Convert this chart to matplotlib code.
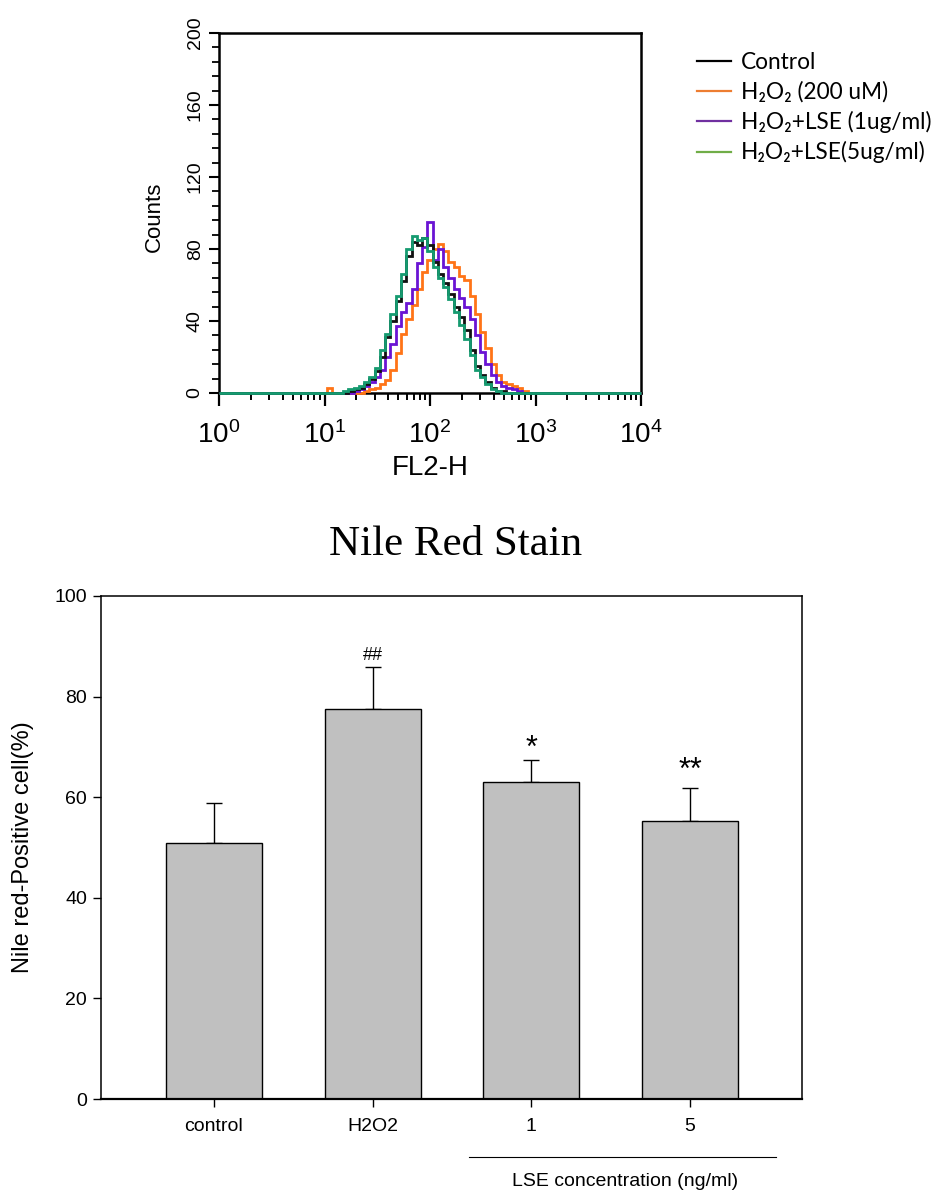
import matplotlib
matplotlib.use("Agg")
import numpy as np
import matplotlib.pyplot as plt
from matplotlib.ticker import MultipleLocator, LogLocator, NullFormatter, FixedLocator
from matplotlib.lines import Line2D

plt.rcParams['font.family'] = ['Liberation Sans', 'DejaVu Sans']
plt.rcParams['mathtext.fontset'] = 'custom'
plt.rcParams['mathtext.rm'] = 'Liberation Sans'
plt.rcParams['mathtext.it'] = 'Liberation Sans:italic'
plt.rcParams['mathtext.bf'] = 'Liberation Sans:bold'
plt.rcParams['mathtext.default'] = 'regular'

# ---------------- flow cytometry histogram data (log10 FL2-H channel centers) --------------
fl2_log10 = [1.00, 1.05, 1.10, 1.15, 1.20, 1.25, 1.30, 1.35, 1.40, 1.45,
             1.50, 1.55, 1.60, 1.65, 1.70, 1.75, 1.80, 1.85, 1.90, 1.95,
             2.00, 2.05, 2.10, 2.15, 2.20, 2.25, 2.30, 2.35, 2.40, 2.45,
             2.50, 2.55, 2.60, 2.65, 2.70, 2.75, 2.80, 2.85, 2.90, 2.95, 3.00]
counts_control = [0, 0, 0, 0, 0, 1, 2, 3, 5, 8,
                  12, 20, 31, 40, 51, 62, 76, 84, 82, 86,
                  82, 73, 66, 61, 55, 48, 42, 35, 24, 15,
                  10, 6, 3, 1, 1, 0, 0, 0, 0, 0, 0]
counts_h2o2 = [0, 3, 0, 0, 0, 0, 0, 0, 1, 2,
               3, 5, 7, 13, 22, 33, 41, 49, 58, 67,
               74, 80, 83, 79, 73, 70, 65, 63, 54, 44,
               34, 25, 16, 10, 6, 5, 4, 3, 1, 0, 0]
counts_lse1 = [0, 0, 0, 0, 0, 0, 1, 2, 4, 6,
               9, 13, 20, 27, 37, 45, 50, 58, 72, 81,
               95, 74, 80, 70, 64, 58, 53, 48, 41, 32,
               23, 16, 10, 6, 4, 3, 2, 1, 0, 0, 0]
counts_lse5 = [0, 0, 0, 0, 1, 2, 3, 4, 6, 9,
               14, 24, 33, 44, 54, 66, 80, 87, 85, 86,
               79, 70, 64, 59, 52, 45, 38, 30, 21, 13,
               9, 5, 2, 1, 0, 0, 0, 0, 0, 0, 0]
legend_labels = ['Control', 'H\u2082O\u2082 (200 uM)', 'H\u2082O\u2082+LSE (1ug/ml)', 'H\u2082O\u2082+LSE(5ug/ml)']
hist_colors = ['#111111', '#FF7417', '#6A14D4', '#159B70']
legend_colors = ['#000000', '#ED7D31', '#7030A0', '#70AD47']

# ---------------- bar chart data ----------------
groups = ['control', 'H2O2', '1', '5']
means = [50.8, 77.5, 63.0, 55.2]
errors = [8.0, 8.3, 4.3, 6.7]
marks = ['', '##', '*', '**']
mark_y = [0, 88.6, 71.4, 66.9]

W, H = 931, 1191
fig = plt.figure(figsize=(W / 100, H / 100), dpi=100)

def fx(px):
    return px / W

def fy(py):
    return 1 - py / H

narrow = ['Liberation Sans Narrow', 'Liberation Sans']

# ===================== top: histogram =====================
ax1 = fig.add_axes([fx(219), fy(393), fx(641) - fx(219), fy(33) - fy(393)])
half = 0.025
edges_log = [fl2_log10[0] - half] + [v + half for v in fl2_log10]
edges = np.concatenate([[1.0], 10 ** np.array(edges_log), [1e4]])
series = [counts_h2o2, counts_lse1, counts_control, counts_lse5]
cols = [hist_colors[1], hist_colors[2], hist_colors[0], hist_colors[3]]
for vals, c in zip(series, cols):
    v = np.concatenate([[0], np.array(vals, float), [0]])
    ax1.stairs(v, edges, baseline=None, color=c, lw=2.0, clip_on=False, zorder=3)

ax1.set_xscale('log')
ax1.set_xlim(1, 1e4)
ax1.set_ylim(0, 200)
ax1.xaxis.set_major_locator(LogLocator(base=10, numticks=10))
ax1.xaxis.set_minor_locator(LogLocator(base=10, subs=np.arange(2, 10), numticks=20))
ax1.xaxis.set_minor_formatter(NullFormatter())
ax1.yaxis.set_major_locator(FixedLocator([0, 40, 80, 120, 160, 200]))
ax1.yaxis.set_minor_locator(MultipleLocator(8))
for s in ax1.spines.values():
    s.set_linewidth(1.8)
ax1.tick_params(axis='x', which='major', direction='out', length=9, width=1.6, labelsize=20, pad=11)
ax1.tick_params(axis='x', which='minor', direction='out', length=5, width=1.4)
ax1.tick_params(axis='y', which='major', direction='out', length=7, width=1.5, labelsize=14, pad=4)
ax1.tick_params(axis='y', which='minor', direction='out', length=5, width=1.3)
for lab in ax1.get_yticklabels():
    lab.set_rotation(90)
    lab.set_va('center')
    lab.set_family(narrow)

fig.text(fx(154), fy(217), 'Counts', rotation=90, ha='center', va='center', fontsize=16, family=narrow)
fig.text(fx(430), fy(468), 'FL2-H', ha='center', va='center', fontsize=20)

handles = [Line2D([], [], color=c, lw=1.6) for c in legend_colors]
fig.legend(handles, legend_labels, loc='upper left', bbox_to_anchor=(fx(686), fy(41)),
           frameon=False, borderpad=0, handlelength=1.5, handletextpad=0.42, labelspacing=0.36,
           prop={'family': ['Lato', 'DejaVu Sans'], 'size': 16.3})

# ===================== title =====================
fig.text(fx(456), fy(545), 'Nile Red Stain', ha='center', va='center', fontsize=31,
         family=['Liberation Serif', 'DejaVu Serif'])

# ===================== bottom: bar chart =====================
ax2 = fig.add_axes([fx(101), fy(1099), fx(802) - fx(101), fy(596) - fy(1099)])
x = np.arange(len(groups))
ax2.bar(x, means, width=0.605, color='#C0C0C0', edgecolor='black', linewidth=1.0, zorder=2)
ax2.errorbar(x, means, yerr=[np.zeros(len(errors)), errors], fmt='none', ecolor='black',
             elinewidth=1.0, capsize=5.5, capthick=1.0, zorder=1)
ax2.set_xlim(-0.712, 3.706)
ax2.set_ylim(0, 100)
ax2.set_yticks([0, 20, 40, 60, 80, 100])
ax2.set_xticks(x)
ax2.set_xticklabels(groups)
ax2.tick_params(axis='both', direction='out', length=6, width=1.0, labelsize=14)
ax2.tick_params(axis='x', pad=8)
ax2.tick_params(axis='y', pad=4)
for s in ax2.spines.values():
    s.set_linewidth(1.1)
ax2.spines['bottom'].set_linewidth(1.6)

for xi, m, my in zip(x, marks, mark_y):
    if not m:
        continue
    if m.startswith('#'):
        fs = 13
        off = -0.35 * fs
    else:
        fs = 22
        off = -0.55 * fs
    ax2.annotate(m, (xi, my), xytext=(0, off), textcoords='offset points',
                 ha='center', va='baseline', fontsize=fs)

fig.text(fx(23), fy(847), 'Nile red-Positive cell(%)', rotation=90, ha='center', va='center', fontsize=17)
fig.add_artist(Line2D([fx(469), fx(776)], [fy(1157), fy(1157)], color='black', lw=0.8))
fig.text(fx(625), fy(1181), 'LSE concentration (ng/ml)', ha='center', va='center', fontsize=14)

fig.savefig('out.png', dpi=100)
